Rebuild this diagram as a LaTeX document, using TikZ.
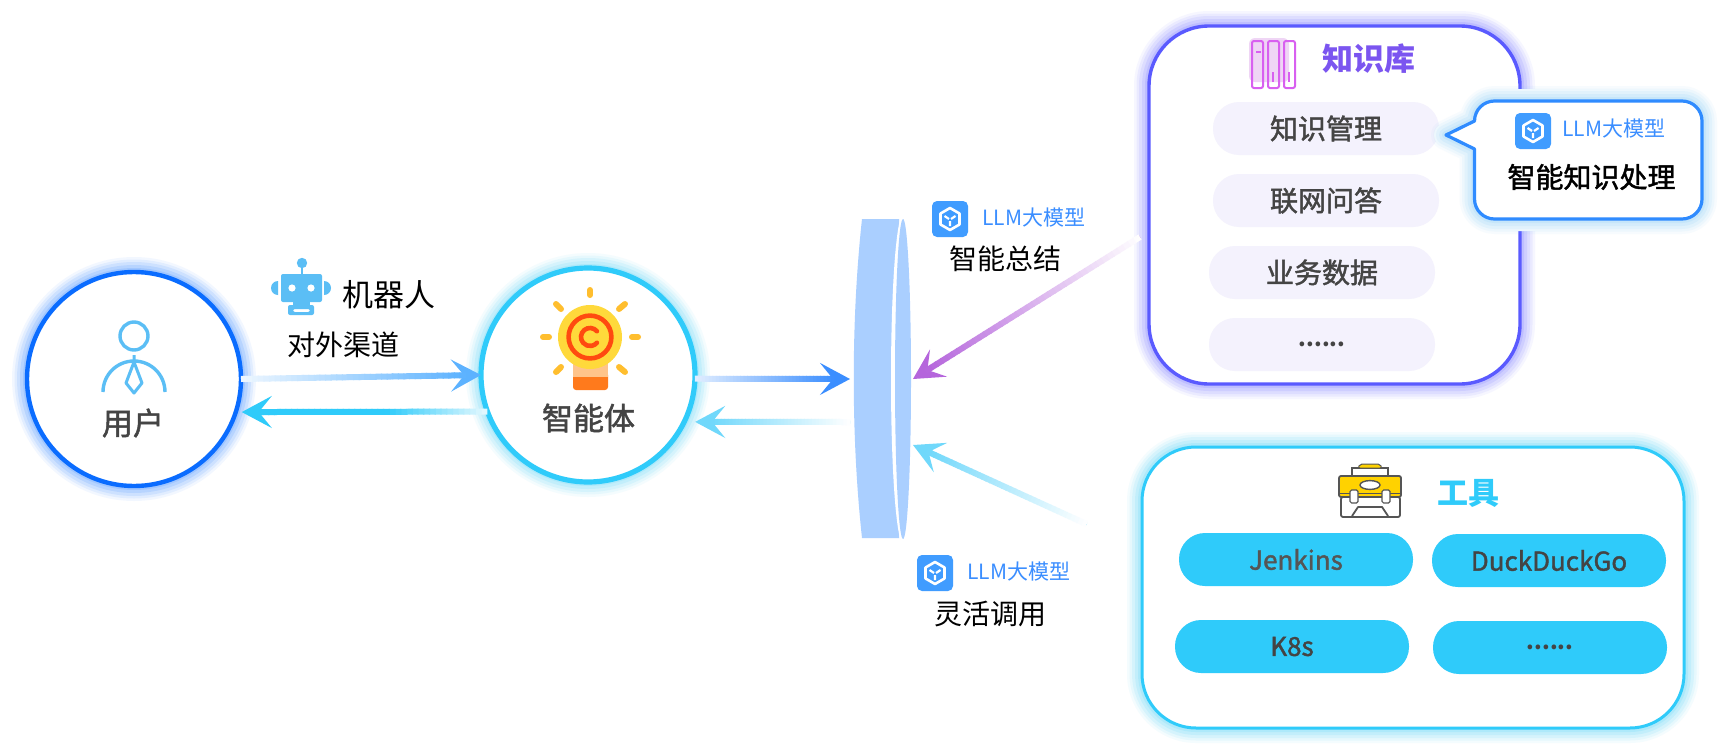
\documentclass[tikz,border=0pt]{standalone}
\usepackage{fontspec}
\setmainfont{Noto Sans CJK SC}
\newfontfamily\medfont[FakeBold=1.6]{Noto Sans CJK SC}
\usetikzlibrary{calc,arrows.meta}
\definecolor{userblue}{HTML}{0A6CFF}
\definecolor{skyblue}{HTML}{2FCBFA}
\definecolor{iconblue}{HTML}{5BBEF5}
\definecolor{llmblue}{HTML}{409CFF}
\definecolor{llmtext}{HTML}{3B8EFF}
\definecolor{knowblue}{HTML}{5A5AFF}
\definecolor{knowtext}{HTML}{7B55F0}
\definecolor{pillfill}{HTML}{F4F2FD}
\definecolor{bookpink}{HTML}{D860F0}
\definecolor{bookback}{HTML}{EFD5F5}
\definecolor{lensblue}{HTML}{AACFFF}
\definecolor{darktext}{HTML}{444444}
\definecolor{bubbleblue}{HTML}{2F8BFF}
\definecolor{bubbleglow}{HTML}{6CC4F5}
\definecolor{flowblue}{HTML}{5CB2FF}
\definecolor{flowdeep}{HTML}{3B8EFF}
\definecolor{flowsky}{HTML}{70D8FB}
\definecolor{flowpurple}{HTML}{B565DC}
\definecolor{bulbyellow}{HTML}{FFD93B}
\definecolor{bulbred}{HTML}{FF4A10}
\definecolor{bulbray}{HTML}{FFBE2E}
\definecolor{bulbpale}{HTML}{FFC48A}
\definecolor{bulbbase}{HTML}{FF7A1C}
\definecolor{toolyellow}{HTML}{FFD200}
\definecolor{toolline}{HTML}{555555}
% from, to, colour at the far end, colour at the tip, percent of the way where the tip colour is reached
\newcommand{\gradarrow}[5][100]{%
  \colorlet{gradstart}{#4}%
  \colorlet{gradend}{#5}%
  \coordinate (gradfrom) at #2;
  \coordinate (gradto) at #3;
  \coordinate (gradbase) at ($(gradto)!8pt!(gradfrom)$);
  \draw[flowtip, gradend] (gradfrom) -- (gradto);
  \foreach \i in {0,...,39}{
    \pgfmathsetmacro{\mixval}{min(100,(\i+.5)*2.5*100/#1)}
    \draw[line width=3pt, gradend!\mixval!gradstart] ($(gradfrom)!\i/40!(gradbase)$) -- ($(gradfrom)!{(\i+1.2)/40}!(gradbase)$);
  }
}
\begin{document}
\begin{tikzpicture}[
  x=.5pt, y=-.5pt,
  every node/.style={inner sep=0pt, outer sep=0pt},
  glow/.style={
    preaction={draw=#1, line width=15pt, opacity=.05, line join=round},
    preaction={draw=#1, line width=12.5pt, opacity=.07, line join=round},
    preaction={draw=#1, line width=10pt, opacity=.09, line join=round},
    preaction={draw=#1, line width=7pt, opacity=.11, line join=round},
    preaction={draw=#1, line width=4pt, opacity=.13, line join=round}},
  roundnode/.style={circle, fill=white, minimum size=107pt, line width=2.2pt},
  bigbox/.style={rectangle, fill=white, line width=1.7pt},
  knowpill/.style={rectangle, fill=pillfill, rounded corners=13pt, minimum width=113pt, minimum height=26.5pt, text=darktext, font=\fontsize{14}{16}\selectfont\medfont},
  toolpill/.style={rectangle, fill=skyblue, rounded corners=13pt, minimum width=117pt, minimum height=26.5pt, text=darktext, font=\fontsize{13}{15}\selectfont\medfont},
  nametext/.style={text=darktext, font=\fontsize{15.5}{18}\selectfont\medfont},
  headtext/.style={font=\fontsize{15.5}{18}\selectfont\bfseries},
  captiontext/.style={text=black, font=\fontsize{14}{16}\selectfont},
  llmtag/.style={text=llmtext, font=\fontsize{10.5}{12}\selectfont},
  flowtip/.style={line width=1.5pt, -{Stealth[length=15pt, width=16pt, inset=6.5pt]}},
  llmicon/.pic={
    \fill[llmblue, rounded corners=2.5pt] (-18,-18) rectangle (18,18);
    \draw[white, line width=1.3pt, line join=round] (0,-11) -- (9.5,-5.5) -- (9.5,5.5) -- (0,11) -- (-9.5,5.5) -- (-9.5,-5.5) -- cycle;
    \draw[white, line width=1.1pt] (-5.5,-3) -- (-1,0) (5.5,-3) -- (1,0) (0,2) -- (0,7);
  }
]
  \path[use as bounding box, fill=white] (0,0) rectangle (1729,755);

  % main circles
  \node[roundnode, draw=userblue, glow=userblue] (user) at (134,379) {};
  \node[roundnode, draw=skyblue, glow=skyblue, line width=2.6pt] (agent) at (588,375) {};
  \node[nametext] (usertext) at (133,423) {用户};
  \node[nametext] (agenttext) at (588.5,418) {智能体};

  % person
  \draw[iconblue, line width=1.7pt] (134,336) circle[radius=7pt];
  \draw[iconblue, line width=1.7pt] (103,392) arc[start angle=180, end angle=0, radius=15.5pt];
  \draw[iconblue, line width=1.5pt, line join=round] (134,355) -- (134,362) -- (126,383) -- (134,393) -- (142,383) -- (134,362);

  % robot
  \fill[iconblue] (302,263) circle[radius=2.6pt];
  \draw[iconblue, line width=.8pt] (302,263) -- (302,276);
  \fill[iconblue, rounded corners=1pt] (281,274) rectangle (322,302);
  \fill[iconblue] (278,281) arc[start angle=90, end angle=270, radius=3.5pt] -- cycle;
  \fill[iconblue] (324,281) arc[start angle=90, end angle=-90, radius=3.5pt] -- cycle;
  \fill[white] (292,288) circle[radius=1.8pt] (311,288) circle[radius=1.8pt];
  \fill[iconblue] (293,302) rectangle (310,305);
  \fill[iconblue, rounded corners=1pt, even odd rule] (288,305) rectangle (314,315) (293,309) rectangle (310,312);
  \node[captiontext, font=\fontsize{15.5}{18}\selectfont] (robottext) at (388.5,295) {机器人};
  \node[captiontext] (channeltext) at (343,345) {对外渠道};

  % bulb
  \foreach \a/\b/\c/\d in {590/290/590/295, 632/337/638/337, 543/337/549/337, 619/309/625/304, 556/304/561/309, 556/372/561/367, 619/367/625/372}
    \draw[bulbray, line width=3pt, line cap=round] (\a,\b) -- (\c,\d);
  \fill[bulbbase, rounded corners=1.5pt] (573,372) rectangle (608,390);
  \fill[bulbpale] (573,360) rectangle (608,377);
  \fill[bulbyellow] (590,337) circle[radius=16pt];
  \draw[bulbred, line width=2.3pt] (590,337) circle[radius=10.7pt];
  \draw[bulbred, line width=2.3pt, line cap=round] (596.9,331.2) arc[start angle=40, end angle=320, radius=4.5pt];

  % lens
  \node[minimum width=31.5pt, minimum height=159.5pt] (lens) at (881.5,379) {};
  \fill[lensblue] (862,219) .. controls (851,320) and (851,437) .. (862,538) -- (899,538) -- (899,219) -- cycle;
  \fill[white] (903,379) ellipse[x radius=6pt, y radius=82pt];
  \fill[lensblue] (903,379) ellipse[x radius=4pt, y radius=80pt];

  % knowledge base
  \node[bigbox, draw=knowblue, glow=knowblue, rounded corners=30pt, minimum width=185.5pt, minimum height=179pt] (know) at (1334.5,205) {};
  \fill[bookback, rounded corners=3pt] (1249,38) rectangle (1289,82);
  \draw[bookpink, line width=1pt, rounded corners=1pt] (1252,41) rectangle (1263,88) (1268,41) rectangle (1279,88) (1284,41) rectangle (1295,88);
  \draw[bookpink, line width=.7pt] (1256,52) -- (1261,52) (1273,72) -- (1273,82) (1289,72) -- (1289,82);
  \node[headtext, text=knowtext] (knowtitle) at (1368.5,59) {知识库};
  \node[knowpill] (manage) at (1326,128.5) {知识管理};
  \node[knowpill] (online) at (1326,200.5) {联网问答};
  \node[knowpill] (business) at (1322,272.5) {业务数据};
  \node[knowpill, font=\fontsize{11}{13}\selectfont\bfseries] (knowmore) at (1322,344.5) {......};

  % bubble
  \draw[preaction={draw=white, line width=12pt, line join=round}, glow=bubbleglow, fill=white, draw=bubbleblue, line width=1.6pt, line join=round]
    (1446,135) -- (1474.5,121) arc[start angle=180, end angle=90, radius=10pt] -- (1682,101) arc[start angle=90, end angle=0, radius=10pt]
    -- (1702,199) arc[start angle=0, end angle=-90, radius=10pt] -- (1494.5,219) arc[start angle=-90, end angle=-180, radius=10pt] -- (1474.5,149) -- cycle;
  \pic at (1533,131) {llmicon};
  \node[llmtag] (bubbletag) at (1614,129) {LLM大模型};
  \node[captiontext, font=\fontsize{14}{16}\selectfont\medfont] (bubbletext) at (1591.5,177) {智能知识处理};

  % tools
  \node[bigbox, draw=skyblue, glow=skyblue, line width=1.5pt, rounded corners=27pt, minimum width=271pt, minimum height=140.5pt] (tools) at (1413,587.5) {};
  \draw[toolline, fill=white, line width=.7pt] (1352,476) -- (1352,468) -- (1388,468) -- (1388,476);
  \draw[toolline, fill=toolyellow, line width=.5pt, rounded corners=1pt] (1358,468) -- (1360,464) -- (1380,464) -- (1382,468) -- cycle;
  \draw[toolline, fill=white, line width=.9pt, rounded corners=1pt] (1341,497) rectangle (1400,517);
  \draw[toolline, fill=toolyellow, line width=.9pt, rounded corners=1pt] (1339,476) rectangle (1401,497);
  \draw[toolline, line width=.5pt] (1339,493) -- (1401,493);
  \draw[toolline, fill=white, line width=.7pt] (1370,485) ellipse[x radius=5pt, y radius=2.2pt];
  \draw[toolline, fill=white, line width=.6pt, rounded corners=.8pt] (1350,490) rectangle (1358,503) (1382,490) rectangle (1390,503);
  \draw[toolline, line width=.9pt, line join=round] (1352,516) -- (1358,507) -- (1382,507) -- (1388,516);
  \node[headtext, text=skyblue] (toolstitle) at (1468,493) {工具};
  \node[toolpill, text=toolline] (jenkins) at (1296,559.5) {Jenkins};
  \node[toolpill] (duck) at (1549,560.5) {DuckDuckGo};
  \node[toolpill] (ktool) at (1292,646.5) {K8s};
  \node[toolpill, font=\fontsize{11}{13}\selectfont\bfseries] (toolmore) at (1550,647.5) {......};

  % labels at the lens
  \pic at (950,219) {llmicon};
  \node[llmtag] (sumtag) at (1034,218) {LLM大模型};
  \node[captiontext] (sumtext) at (1005,259) {智能总结};
  \pic at (935,573) {llmicon};
  \node[llmtag] (calltag) at (1019,572) {LLM大模型};
  \node[captiontext] (calltext) at (990,614) {灵活调用};

  % connectors
  \gradarrow{(user.east)}{(agent.west)}{flowblue!10!white}{flowblue}
  \gradarrow[44]{(agent.200)}{([xshift=3pt]user.-18)}{skyblue!12!white}{skyblue}
  \gradarrow{(agent.-2)}{(lens.west)}{flowdeep!15!white}{flowdeep}
  \gradarrow{(lens.west |- 0,422)}{([xshift=5.5pt]agent.-26)}{white}{flowsky}
  \gradarrow{([shift={(-4.5pt,-16pt)}]know.west)}{(lens.east)}{white}{flowpurple}
  \gradarrow{([shift={(-27.7pt,31.7pt)}]tools.west)}{([yshift=-33pt]lens.east)}{white}{flowsky}
\end{tikzpicture}
\end{document}
